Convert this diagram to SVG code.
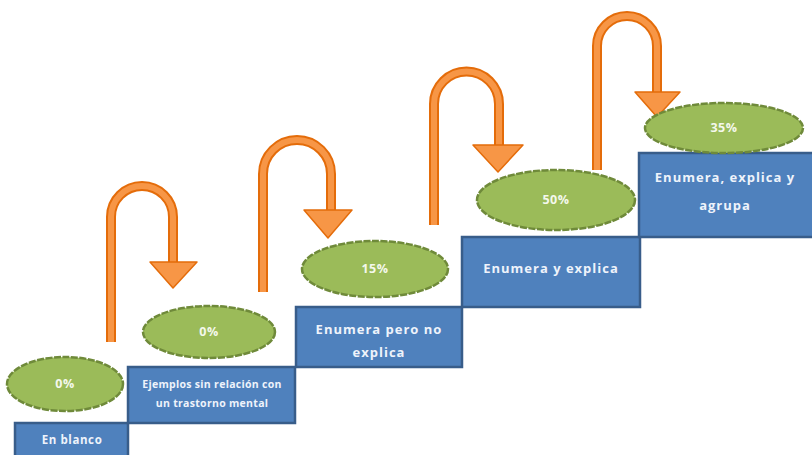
<svg xmlns="http://www.w3.org/2000/svg" width="812" height="455" viewBox="0 0 812 455">
<style>
.box{fill:#4f81bd;stroke:#385d8a;stroke-width:2.5}
.ell{fill:#9bbb59;stroke:#6f8a3a;stroke-width:2.5;stroke-dasharray:7 1.5}
.bt{fill:#eef3fb;font-family:"Open Sans","Liberation Sans",sans-serif;font-weight:bold;text-anchor:middle}
.et{fill:#f4f8ec;font-family:"Open Sans","Liberation Sans",sans-serif;font-weight:bold;font-size:12.5px;text-anchor:middle;letter-spacing:0.5px}
.sh-o{fill:none;stroke:#e46c0a;stroke-width:10}
.sh-i{fill:none;stroke:#f79646;stroke-width:6}
.head{fill:#f79646;stroke:#e46c0a;stroke-width:1.5;stroke-linejoin:round}
</style>
<rect width="812" height="455" fill="#ffffff"/>
<g id="step1"><rect class="box" x="15" y="423" width="113" height="40"/><text class="bt" x="72" y="444" font-size="11.5" letter-spacing="0.6">En blanco</text></g>
<g id="step2"><rect class="box" x="128" y="367" width="167" height="56"/><text class="bt" x="212" y="388" font-size="10.5" letter-spacing="0.3">Ejemplos sin relación con</text><text class="bt" x="212" y="407" font-size="10.5" letter-spacing="0.3">un trastorno mental</text></g>
<g id="step3"><rect class="box" x="296" y="307" width="166" height="60"/><text class="bt" x="379" y="334" font-size="13" letter-spacing="1">Enumera pero no</text><text class="bt" x="379" y="357" font-size="13" letter-spacing="1">explica</text></g>
<g id="step4"><rect class="box" x="462" y="237" width="178" height="70"/><text class="bt" x="551" y="273" font-size="13" letter-spacing="1">Enumera y explica</text></g>
<g id="step5"><rect class="box" x="639" y="153" width="180" height="84"/><text class="bt" x="725" y="182" font-size="13" letter-spacing="1">Enumera, explica y</text><text class="bt" x="725" y="210" font-size="13" letter-spacing="1">agrupa</text></g>
<g id="connectors">
<path class="sh-o" d="M111 342 V217 A31 31 0 0 1 173 217 V263"/><path class="sh-i" d="M111 342 V217 A31 31 0 0 1 173 217 V263"/><polygon class="head" points="150,262 197,262 173,288"/>
<path class="sh-o" d="M263 292 V174 A34 34 0 0 1 331 174 V211"/><path class="sh-i" d="M263 292 V174 A34 34 0 0 1 331 174 V211"/><polygon class="head" points="304,210 352,210 328,238"/>
<path class="sh-o" d="M434 225 V104 A32.5 32.5 0 0 1 499 104 V146"/><path class="sh-i" d="M434 225 V104 A32.5 32.5 0 0 1 499 104 V146"/><polygon class="head" points="473,145 523,145 498,172"/>
<path class="sh-o" d="M597 170 V46 A30 30 0 0 1 657 46 V93"/><path class="sh-i" d="M597 170 V46 A30 30 0 0 1 657 46 V93"/><polygon class="head" points="635,92 680,92 657,117"/>
</g>
<g id="e1"><ellipse class="ell" cx="65" cy="384" rx="58" ry="27"/><text class="et" x="65" y="388">0%</text></g>
<g id="e2"><ellipse class="ell" cx="209" cy="332" rx="66" ry="26"/><text class="et" x="209" y="336">0%</text></g>
<g id="e3"><ellipse class="ell" cx="375" cy="269" rx="73" ry="28"/><text class="et" x="375" y="273">15%</text></g>
<g id="e4"><ellipse class="ell" cx="556" cy="200" rx="79" ry="30"/><text class="et" x="556" y="204">50%</text></g>
<g id="e5"><ellipse class="ell" cx="724" cy="128" rx="79" ry="25"/><text class="et" x="724" y="132">35%</text></g>
</svg>
